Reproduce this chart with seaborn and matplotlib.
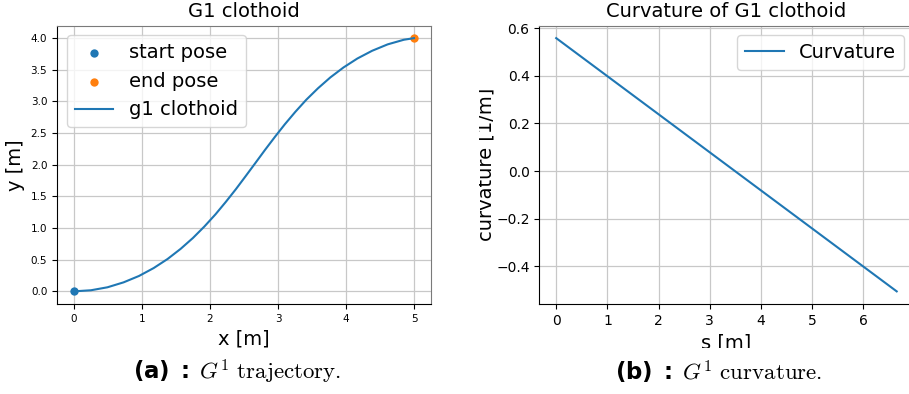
import matplotlib
matplotlib.use("Agg")
import matplotlib.pyplot as plt
from matplotlib.transforms import Bbox, TransformedBbox
import seaborn as sns
import pandas as pd

# Start / end poses of the G1 clothoid
start_pose = (0.0, 0.0)
end_pose = (5.0, 4.0)

# Sampled clothoid trajectory (x, y) in metres
traj_x = [0.000, 0.249, 0.492, 0.729, 0.956, 1.172, 1.376, 1.568, 1.749, 1.919,
          2.081, 2.234, 2.382, 2.525, 2.667, 2.808, 2.953, 3.101, 3.255, 3.416,
          3.588, 3.770, 3.963, 4.168, 4.385, 4.613, 4.851, 5.000]
traj_y = [0.000, 0.017, 0.064, 0.142, 0.243, 0.368, 0.511, 0.671, 0.843, 1.026,
          1.217, 1.415, 1.616, 1.821, 2.027, 2.233, 2.438, 2.640, 2.836, 3.027,
          3.208, 3.380, 3.537, 3.679, 3.801, 3.902, 3.975, 4.000]

# Curvature along arc length (linear for a clothoid)
arc_s = [0.0, 6.65]
curvature = [0.558, -0.505]

plt.rcParams["font.family"] = ["DejaVu Sans"]
plt.rcParams["mathtext.fontset"] = "custom"
plt.rcParams["mathtext.rm"] = "cmr10"
plt.rcParams["mathtext.it"] = "cmmi10"
plt.rcParams["mathtext.bf"] = "DejaVu Sans:bold"

W, H = 909, 394
fig = plt.figure(figsize=(W / 100, H / 100), dpi=100)
fig.patch.set_facecolor("white")

ax1 = fig.add_axes([57 / W, (H - 304) / H, (431 - 57) / W, (304 - 25.5) / H])
ax2 = fig.add_axes([539.3 / W, (H - 304) / H, (913.6 - 539.3) / W, (304 - 25.5) / H])

traj = pd.DataFrame({"x": traj_x, "y": traj_y})
curv = pd.DataFrame({"s": arc_s, "k": curvature})

blue, orange = "#1f77b4", "#ff7f0e"

# Left panel: trajectory
sns.scatterplot(x=[start_pose[0]], y=[start_pose[1]], ax=ax1, color=blue,
                s=36, linewidth=0, label="start pose")
sns.scatterplot(x=[end_pose[0]], y=[end_pose[1]], ax=ax1, color=orange,
                s=36, linewidth=0, label="end pose")
sns.lineplot(data=traj, x="x", y="y", ax=ax1, color=blue, lw=1.5,
             sort=False, label="g1 clothoid")
ax1.set_xlim(-0.25, 5.25)
ax1.set_ylim(-0.2, 4.2)
ax1.set_xticks(range(0, 6))
ax1.set_yticks([0.0, 0.5, 1.0, 1.5, 2.0, 2.5, 3.0, 3.5, 4.0])
ax1.tick_params(labelsize=7.5)
ax1.set_title("G1 clothoid", fontsize=14)
ax1.set_xlabel("x [m]", fontsize=14)
ax1.set_ylabel("y [m]", fontsize=14)
ax1.legend(loc="upper left", fontsize=14)

# Right panel: curvature
sns.lineplot(data=curv, x="s", y="k", ax=ax2, color=blue, lw=1.5,
             sort=False, label="Curvature")
ax2.set_xlim(-0.33, 6.98)
ax2.set_ylim(-0.558, 0.611)
ax2.set_xticks(range(0, 7))
ax2.set_yticks([-0.4, -0.2, 0.0, 0.2, 0.4, 0.6])
ax2.tick_params(labelsize=10)
ax2.set_title("Curvature of G1 clothoid", fontsize=14)
ax2.set_xlabel("s [m]", fontsize=14)
ax2.set_ylabel("curvature [1/m]", fontsize=14, labelpad=0.5)
ax2.legend(loc="upper right", fontsize=14)

for ax in (ax1, ax2):
    ax.grid(True, color="#c8c8c8", lw=0.9)
    ax.set_axisbelow(True)
    for side in ("top", "right"):
        ax.spines[side].set_color("#7a7a7a")
    for side in ("left", "bottom"):
        ax.spines[side].set_color("black")

# The right panel's axis labels are cropped at the panel edges
ylab = ax2.yaxis.label
ylab.set_clip_box(TransformedBbox(Bbox.from_extents(479 / W, 0, 1, 1), fig.transFigure))
ylab.set_clip_on(True)
xlab = ax2.xaxis.label
xlab.set_clip_box(TransformedBbox(Bbox.from_extents(0.45, 46 / H, 1, 1), fig.transFigure))
xlab.set_clip_on(True)

# Sub-figure captions
fig.text(237 / W, 1 - 372 / H, r"$\mathbf{(a)\ :}\ G^1\ \mathrm{trajectory.}$",
         fontsize=16.5, ha="center", va="center")
fig.text(719 / W, 1 - 372 / H, r"$\mathbf{(b)\ :}\ G^1\ \mathrm{curvature.}$",
         fontsize=16.5, ha="center", va="center")

fig.savefig("out.png", dpi=100)
